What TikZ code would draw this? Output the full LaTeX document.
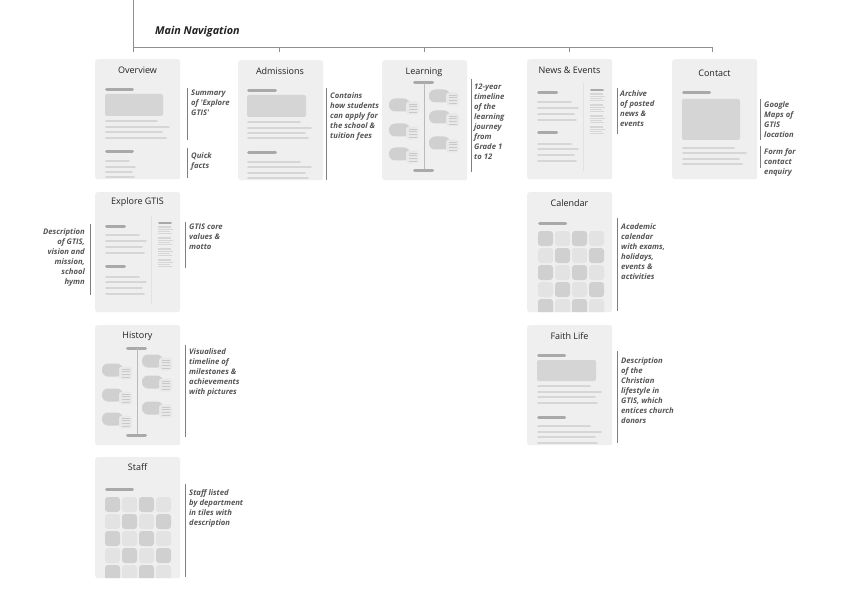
\documentclass[tikz,border=0pt]{standalone}
\usepackage{fontspec}
\setmainfont{Open Sans}
\newfontfamily\navfont{Open Sans}
\newfontfamily\notefont{Open Sans}
\usetikzlibrary{calc}
\definecolor{cardbg}{HTML}{EFEFF0}
\definecolor{hbarc}{HTML}{A9A9A9}
\definecolor{tlinec}{HTML}{D6D6D6}
\definecolor{boxc}{HTML}{D5D5D5}
\definecolor{tiledark}{HTML}{D0D0D0}
\definecolor{tilelight}{HTML}{E3E3E3}
\definecolor{notec}{HTML}{555555}
\definecolor{rulec}{HTML}{7F7F7F}
\definecolor{navc}{HTML}{8F8F8F}
\definecolor{titlec}{HTML}{222222}
\definecolor{iconc}{HTML}{E8E8E8}
\definecolor{iconl}{HTML}{C9C9C9}
\definecolor{divc}{HTML}{E2E2E2}
\tikzset{
  card/.style={fill=cardbg, rounded corners=2.5pt, minimum width=85pt, minimum height=120pt, inner sep=0pt, anchor=north west},
  cardtitle/.style={font=\fontsize{9}{11}\selectfont, text=titlec, inner sep=0pt},
  note/.style={font=\notefont\bfseries\itshape\fontsize{7.7}{10}\selectfont, text=notec, align=left, inner sep=0pt, anchor=north west, execute at begin node=\strut},
  noteR/.style={note, align=right, anchor=north east},
  noterule/.style={draw=rulec, line width=0.9pt},
  navline/.style={draw=navc, line width=0.9pt},
  hbar/.style={draw=hbarc, line width=3pt, line cap=round},
  sbar/.style={draw=hbarc, line width=2.4pt, line cap=round},
  tline/.style={draw=tlinec, line width=2.6pt, line cap=round},
  thinl/.style={draw=tlinec, line width=1.1pt},
  divider/.style={draw=divc, line width=0.8pt},
  tlvert/.style={draw=hbarc!80, line width=0.8pt},
}
\newcommand\hb[3]{\draw[hbar] (#1+1.5,#3) -- (#2-1.5,#3);}
\newcommand\tl[3]{\draw[tline] (#1+1.3,#3) -- (#2-1.3,#3);}
\newcommand\pill[2]{%
  \fill[tiledark, rounded corners=6pt] (#1,#2-6.5) rectangle (#1+21,#2+6.5);
  \fill[iconc, rounded corners=3pt] (#1+17,#2-3.5) rectangle (#1+30,#2+9.5);
  \foreach \k in {0,1,2,3} {\draw[draw=iconl, line width=0.9pt] (#1+20,#2-0.8+2.6*\k) -- (#1+28,#2-0.8+2.6*\k);}
}
\newcommand\timeline{%
  \hb{31}{52}{23}
  \draw[tlvert] (42,23) -- (42,110);
  \hb{31}{52}{110}
  \pill{7}{45}\pill{7}{70}\pill{7}{94}
  \pill{47}{36}\pill{47}{57}\pill{47}{83}
}
\newcommand\twocol{%
  \hb{10}{31}{34}
  \tl{10}{45}{43}\tl{10}{52}{49}\tl{10}{48}{55}\tl{10}{50}{61}
  \hb{10}{31}{74}
  \tl{10}{45}{85}\tl{10}{52}{90}\tl{10}{48}{96}\tl{10}{50}{102}
  \draw[divider] (56,24) -- (56,112);
  \draw[sbar] (64.2,31) -- (75.8,31);
  \foreach \g in {0,1,2,3} {
    \draw[thinl] (63,35+11*\g) -- (76,35+11*\g);
    \draw[thinl] (63,37.3+11*\g) -- (78,37.3+11*\g);
    \draw[thinl] (63,39.6+11*\g) -- (75,39.6+11*\g);
    \draw[thinl] (63,41.9+11*\g) -- (77,41.9+11*\g);
  }
}
\newcommand\tiles[2]{%
  \foreach \r in {0,...,4} {
    \foreach \c in {0,...,3} {
      \pgfmathtruncatemacro\m{mod(\r+\c,2)}
      \ifnum\m=0 \def\tc{tiledark}\else\def\tc{tilelight}\fi
      \fill[\tc, rounded corners=3pt] (#1+17*\c,#2+17*\r) rectangle (#1+17*\c+15,#2+17*\r+15);
    }
  }
}
\begin{document}
\begin{tikzpicture}[x=1pt,y=-1pt]
\useasboundingbox[fill=white] (0,0) rectangle (842,596);

% navigation
\coordinate (navtop) at (133,0);
\coordinate (navbot) at (133,52);
\coordinate (navL) at (133,47);
\coordinate (navR) at (712,47);
\draw[navline] (navtop) -- (navbot);
\draw[navline] (navL) -- (navR);
\foreach \x/\n in {279/adm,424/lrn,569/nws,712/con} {
  \coordinate (t\n a) at (\x,47);
  \coordinate (t\n b) at (\x,52);
  \draw[navline] (t\n a) -- (t\n b);
}
\node[font=\navfont\bfseries\itshape\fontsize{10.8}{12}\selectfont, text=titlec, anchor=west, inner sep=0pt] (navT) at (155,32) {Main Navigation};

% cards
\node[card] (overview) at (95,59) {};
\node[card] (admissions) at (238,60) {};
\node[card] (learning) at (382,60) {};
\node[card] (news) at (527,59) {};
\node[card] (contact) at (672,59) {};
\node[card] (explore) at (95,192) {};
\node[card] (history) at (95,325) {};
\node[card, minimum height=121pt] (staff) at (95,457) {};
\node[card] (calendar) at (527,192) {};
\node[card] (faith) at (527,325) {};

% titles
\node[cardtitle] (overviewT) at (137.5,70.5) {Overview};
\node[cardtitle] (admissionsT) at (280,71.5) {Admissions};
\node[cardtitle] (learningT) at (424,72) {Learning};
\node[cardtitle] (newsT) at (569.5,70.5) {News \& Events};
\node[cardtitle] (contactT) at (714.5,73) {Contact};
\node[cardtitle] (exploreT) at (137.5,202.5) {Explore GTIS};
\node[cardtitle] (historyT) at (137.5,336) {History};
\node[cardtitle] (staffT) at (137.5,467.5) {Staff};
\node[cardtitle] (calendarT) at (569.5,203) {Calendar};
\node[cardtitle] (faithT) at (569.5,336) {Faith Life};

% Overview content
\begin{scope}[shift={(95,59)}]
  \clip[rounded corners=2.5pt] (0,0) rectangle (85,120);
  \hb{10}{39}{31}
  \fill[boxc, rounded corners=2pt] (10,35) rectangle (68,57);
  \tl{10}{63}{62}\tl{10}{75}{68}\tl{10}{68}{73}\tl{10}{72}{79}
  \hb{10}{39}{93}
  \tl{10}{35}{102}\tl{10}{41}{108}\tl{10}{38}{113}\tl{10}{40}{118}
\end{scope}
% Admissions content
\begin{scope}[shift={(238,60)}]
  \clip[rounded corners=2.5pt] (0,0) rectangle (85,120);
  \hb{9}{39}{31}
  \fill[boxc, rounded corners=2pt] (9,35) rectangle (68,57);
  \tl{9}{63}{62}\tl{9}{74}{68}\tl{9}{68}{73}\tl{9}{71}{78}
  \hb{9}{39}{93}
  \tl{9}{63}{102}\tl{9}{74}{107}\tl{9}{68}{113}\tl{9}{71}{118}
\end{scope}
% Learning content
\begin{scope}[shift={(382,60)}]
  \timeline
\end{scope}
% News content
\begin{scope}[shift={(527,59)}]
  \twocol
\end{scope}
% Contact content
\begin{scope}[shift={(672,59)}]
  \hb{10}{39}{34}
  \fill[boxc, rounded corners=2pt] (10,40) rectangle (68,81);
  \tl{10}{63}{89}\tl{10}{75}{94}\tl{10}{68}{100}\tl{10}{71}{105}
\end{scope}
% Explore content
\begin{scope}[shift={(95,192)}]
  \twocol
\end{scope}
% History content
\begin{scope}[shift={(95,325)}]
  \timeline
\end{scope}
% Staff content
\begin{scope}[shift={(95,457)}]
  \clip[rounded corners=2.5pt] (0,0) rectangle (85,121);
  \hb{10}{39}{32}
  \tiles{10}{40}
\end{scope}
% Calendar content
\begin{scope}[shift={(527,192)}]
  \clip[rounded corners=2.5pt] (0,0) rectangle (85,120);
  \hb{11}{40}{31}
  \tiles{11}{39}
\end{scope}
% Faith content
\begin{scope}[shift={(527,325)}]
  \clip[rounded corners=2.5pt] (0,0) rectangle (85,120);
  \hb{10}{39}{30}
  \fill[boxc, rounded corners=2pt] (10,35) rectangle (69,56);
  \tl{10}{64}{61}\tl{10}{75}{67}\tl{10}{69}{72}\tl{10}{71}{78}
  \hb{10}{39}{92}
  \tl{10}{64}{101}\tl{10}{75}{107}\tl{10}{69}{112}\tl{10}{71}{118}
\end{scope}

% annotations
\coordinate (rOv1a) at (187,88);  \coordinate (rOv1b) at (187,140);
\coordinate (rOv2a) at (187,148); \coordinate (rOv2b) at (187,178);
\coordinate (rAdma) at (326,88);  \coordinate (rAdmb) at (326,180);
\coordinate (rLrna) at (471,79);  \coordinate (rLrnb) at (471,172);
\coordinate (rNwsa) at (617,88);  \coordinate (rNwsb) at (617,134);
\coordinate (rCon1a) at (760,99); \coordinate (rCon1b) at (760,140);
\coordinate (rCon2a) at (760,146);\coordinate (rCon2b) at (760,168);
\coordinate (rExRa) at (185,222); \coordinate (rExRb) at (185,268);
\coordinate (rExLa) at (90,224);  \coordinate (rExLb) at (90,295);
\coordinate (rHisa) at (185,345); \coordinate (rHisb) at (185,437);
\coordinate (rStfa) at (185,484); \coordinate (rStfb) at (185,577);
\coordinate (rCala) at (617,218); \coordinate (rCalb) at (617,311);
\coordinate (rFtha) at (617,351); \coordinate (rFthb) at (617,443);
\foreach \n in {Ov1,Ov2,Adm,Lrn,Nws,Con1,Con2,ExR,ExL,His,Stf,Cal,Fth} {
  \draw[noterule] (r\n a) -- (r\n b);
}

\node[note] (nOv1) at (191,90) {Summary\\of 'Explore\\GTIS'};
\node[note] (nOv2) at (191,152) {Quick\\facts};
\node[note] (nAdm) at (330,92) {Contains\\how students\\can apply for\\the school \&\\tuition fees};
\node[note] (nLrn) at (474,84) {12-year\\timeline\\of the\\learning\\journey\\from\\Grade 1\\to 12};
\node[note] (nNws) at (620,90) {Archive\\of posted\\news \&\\events};
\node[note] (nCon1) at (764,101) {Google\\Maps of\\GTIS\\location};
\node[note] (nCon2) at (764,148) {Form for\\contact\\enquiry};
\node[note] (nExR) at (189,224) {GTIS core\\values \&\\motto};
\node[noteR] (nExL) at (85,228) {Description\\of GTIS,\\vision and\\mission,\\school\\hymn};
\node[note] (nHis) at (189,348) {Visualised\\timeline of\\milestones \&\\achievements\\with pictures};
\node[note] (nStf) at (189,489) {Staff listed\\by department\\in tiles with\\description};
\node[note] (nCal) at (621,223) {Academic\\calendar\\with exams,\\holidays,\\events \&\\activities};
\node[note] (nFth) at (621,357) {Description\\of the\\Christian\\lifestyle in\\GTIS, which\\entices church\\donors};
\end{tikzpicture}
\end{document}
